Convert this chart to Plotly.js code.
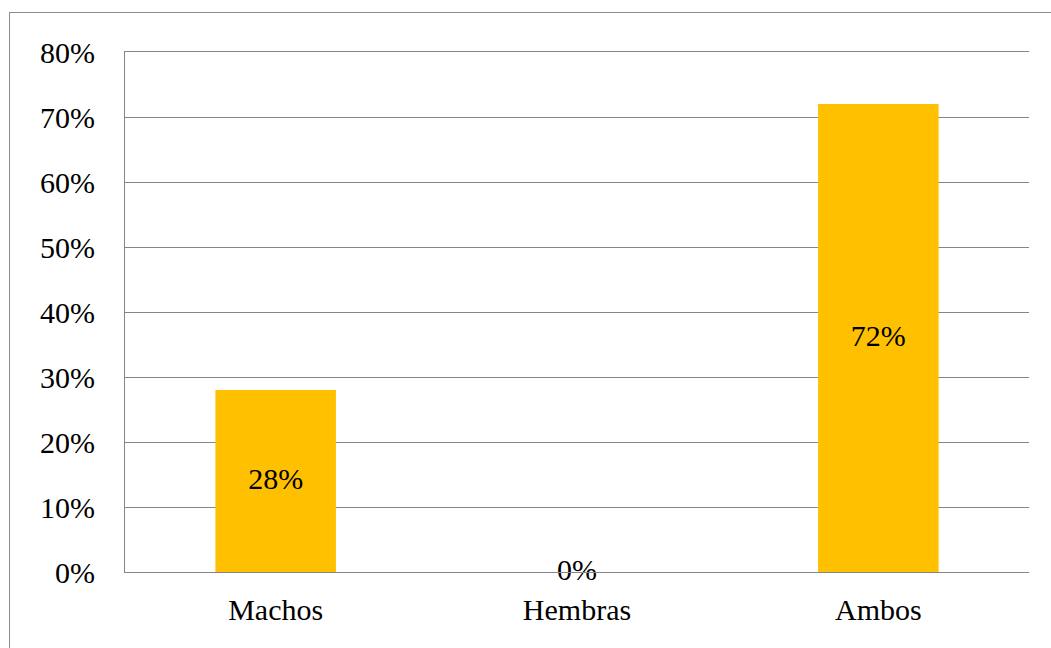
<!DOCTYPE html>
<html>
<head>
<meta charset="utf-8">
<script src="https://cdn.plot.ly/plotly-3.0.1.min.js"></script>
<style>
  html, body { margin: 0; padding: 0; background: #fff; overflow: hidden; }
  #frame { position: absolute; left: 9px; top: 12px; width: 1100px; height: 700px; border: 1px solid #8c8c8c; box-sizing: border-box; }
  #chart { position: absolute; left: 0; top: 0; width: 1051px; height: 648px; }
</style>
</head>
<body>
<div id="frame"></div>
<div id="chart"></div>
<script>
const categories = ["Machos", "Hembras", "Ambos"];
const values = [0.28, 0, 0.72];
const labels = ["28%", "0%", "72%"];
const yTicks = [0, 0.1, 0.2, 0.3, 0.4, 0.5, 0.6, 0.7, 0.8];
const yTickLabels = ["0%", "10%", "20%", "30%", "40%", "50%", "60%", "70%", "80%"];

const font = { family: 'Liberation Serif, Times New Roman, serif', size: 30, color: '#000' };

const bars = {
  type: 'bar',
  x: categories,
  y: values,
  marker: { color: '#FFC000', line: { width: 0 } },
  width: 0.4,
  hoverinfo: 'none'
};

const textTrace = {
  type: 'scatter',
  mode: 'text',
  x: categories,
  y: values.map(v => v / 2),
  text: labels,
  textposition: 'middle center',
  textfont: font,
  cliponaxis: false,
  hoverinfo: 'none'
};

const layout = {
  width: 1051,
  height: 648,
  margin: { l: 125, r: 22, t: 52, b: 76 },
  paper_bgcolor: 'rgba(0,0,0,0)',
  plot_bgcolor: 'rgba(0,0,0,0)',
  showlegend: false,
  font: font,
  xaxis: {
    type: 'category',
    showline: true,
    mirror: true,
    linecolor: '#868686',
    linewidth: 1,
    showgrid: false,
    ticks: '',
    ticklabelstandoff: 11,
    tickfont: font,
    fixedrange: true
  },
  yaxis: {
    range: [0, 0.8],
    tickvals: yTicks,
    ticktext: yTickLabels,
    showline: true,
    linecolor: '#868686',
    linewidth: 1,
    showgrid: true,
    gridcolor: '#868686',
    gridwidth: 1,
    zeroline: false,
    ticks: '',
    ticklabelstandoff: 23,
    tickfont: font,
    fixedrange: true
  }
};

Plotly.newPlot('chart', [bars, textTrace], layout, { displayModeBar: false, staticPlot: true });
</script>
</body>
</html>
